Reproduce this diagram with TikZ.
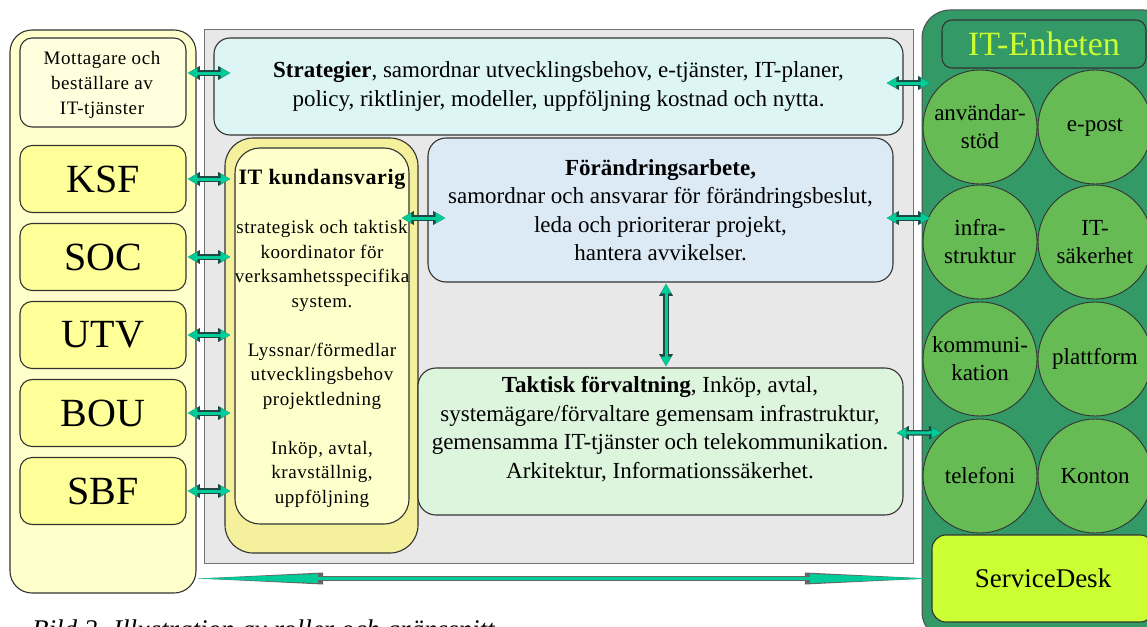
\documentclass[tikz,border=0pt]{standalone}
\usepackage{fontspec}
\setmainfont{Liberation Serif}
\newfontfamily\spacedfont[LetterSpace=3]{Liberation Serif}
\usetikzlibrary{arrows.meta,calc}

\definecolor{lyel}{HTML}{FFFFCC}
\definecolor{lyel2}{HTML}{FFFFDD}
\definecolor{myel}{HTML}{FFFF99}
\definecolor{ring}{HTML}{F4F09C}
\definecolor{panelgray}{HTML}{E8E8E8}
\definecolor{cyanbox}{HTML}{DDF5F5}
\definecolor{bluebox}{HTML}{DCEAF6}
\definecolor{greenbox}{HTML}{DDF5DD}
\definecolor{dgreen}{HTML}{339966}
\definecolor{cgreen}{HTML}{66BB55}
\definecolor{lime}{HTML}{CCFF33}
\definecolor{titlelime}{HTML}{CCFF33}
\definecolor{arrteal}{HTML}{00CC99}
\definecolor{arrdark}{HTML}{1E4A44}
\definecolor{edge}{HTML}{333333}

\begin{document}
\begin{tikzpicture}[x=1pt,y=-1pt,
  box/.style={draw=edge, line width=1.1pt, rounded corners=#1, inner sep=0pt},
  unitbox/.style={box=12pt, fill=myel, minimum width=166pt, minimum height=67pt,
    font=\fontsize{40}{44}\selectfont},
  maintext/.style={font=\fontsize{23}{28.5}\selectfont, align=center, inner sep=0pt},
  circ/.style={circle, draw=black!80, line width=0.9pt, fill=cgreen, minimum size=114pt,
    inner sep=0pt, align=center, font=\fontsize{23}{28}\selectfont},
  darr/.style={preaction={draw=arrdark, line width=5.5pt,
      {Triangle[length=12pt,width=14pt,line width=0pt]}-{Triangle[length=12pt,width=14pt,line width=0pt]}},
    draw=arrteal, line width=3pt, shorten >=1.3pt, shorten <=1.3pt,
    {Triangle[length=9.5pt,width=10.5pt,line width=0pt]}-{Triangle[length=9.5pt,width=10.5pt,line width=0pt]}},
  darrlong/.style={preaction={draw=black!60, line width=5pt,
      {Triangle[length=125pt,width=12pt,line width=0pt]}-{Triangle[length=125pt,width=12pt,line width=0pt]}},
    draw=arrteal, line width=2.8pt, shorten >=1.5pt, shorten <=1.5pt,
    {Triangle[length=120pt,width=9pt,line width=0pt]}-{Triangle[length=120pt,width=9pt,line width=0pt]}}
]
\useasboundingbox (0,0) rectangle (1147,626);
\clip (0,0) rectangle (1147,626);

% left column
\node[box=22pt, fill=lyel, minimum width=186pt, minimum height=563pt] (leftcol) at (103,311.5) {};
\node[box=12pt, fill=lyel2, minimum width=166pt, minimum height=89pt, align=center,
  font=\spacedfont\fontsize{19}{25}\selectfont] (mott) at (103,82.5) {};
\node[align=center, inner sep=0pt, font=\spacedfont\fontsize{19}{25}\selectfont] (motttext) at (102,85)
  {Mottagare och\\ beställare av\\ IT-tjänster};
\node[unitbox] (ksf) at (103,179) {KSF};
\node[unitbox] (soc) at (103,257) {SOC};
\node[unitbox] (utv) at (103,335) {UTV};
\node[unitbox] (bou) at (103,413) {BOU};
\node[unitbox] (sbf) at (103,491) {SBF};

% central panel
\node[draw=black!55, fill=panelgray, line width=1pt, minimum width=709pt, minimum height=533pt,
  inner sep=0pt] (panel) at (558.5,296.5) {};
\node[box=16pt, fill=cyanbox, minimum width=689pt, minimum height=97pt, maintext] (strat) at (558.5,86.5)
  {\textbf{Strategier}, samordnar utvecklingsbehov, e-tjänster, IT-planer,\\
   policy, riktlinjer, modeller, uppföljning kostnad och nytta.};
\node[box=28pt, fill=ring, minimum width=193pt, minimum height=415pt] (itkout) at (321.5,345.5) {};
\node[box=25pt, fill=lyel, minimum width=174pt, minimum height=376pt] (itkin) at (322,336) {};
\node[align=center, inner sep=0pt, font=\spacedfont\fontsize{19}{24.5}\selectfont] (itktext) at (322,338.5)
  {{\fontsize{22}{24.5}\selectfont\bfseries IT kundansvarig}\\[24.5pt]
   strategisk och taktisk\\ koordinator för\\ verksamhetsspecifika\\ system.\\[24.5pt]
   Lyssnar/förmedlar\\ utvecklingsbehov\\ projektledning\\[24.5pt]
   Inköp, avtal,\\ kravställnig,\\ uppföljning};
\node[box=18pt, fill=bluebox, minimum width=465pt, minimum height=144pt, maintext] (forand) at (660.5,210)
  {\textbf{Förändringsarbete,}\\ samordnar och ansvarar för förändringsbeslut,\\
   leda och prioriterar projekt,\\ hantera avvikelser.};
\node[box=18pt, fill=greenbox, minimum width=485pt, minimum height=147pt] (tak) at (660.5,441.5) {};
\node[maintext] (taktext) at (660,429)
  {\textbf{Taktisk förvaltning}, Inköp, avtal,\\ systemägare/förvaltare gemensam infrastruktur,\\
   gemensamma IT-tjänster och telekommunikation.\\ Arkitektur, Informationssäkerhet.};

% IT-Enheten
\node[draw=black!70, line width=1pt, fill=dgreen, rounded corners=28pt, minimum width=250pt,
  minimum height=630pt, inner sep=0pt] (itenh) at (1047,325) {};
\node[box=10pt, fill=dgreen, minimum width=204pt, minimum height=48pt, text=titlelime,
  font=\fontsize{34}{38}\selectfont] (title) at (1044,44) {IT-Enheten};
\node[circ] (anv) at (980,127) {användar-\\stöd};
\node[circ] (epost) at (1095,127) {e-post};
\node[circ] (infra) at (980,242) {infra-\\struktur};
\node[circ] (itsak) at (1095,242) {IT-\\säkerhet};
\node[circ] (komm) at (980,359) {kommuni-\\kation};
\node[circ] (platt) at (1095,359) {plattform};
\node[circ] (tel) at (980,476) {telefoni};
\node[circ] (konton) at (1095,476) {Konton};
\node[box=14pt, fill=lime, minimum width=222pt, minimum height=87pt,
  font=\fontsize{27}{30}\selectfont] (sd) at (1043,578.5) {ServiceDesk};

% connectors
\draw[darr] ($(mott.east)+(0,-9.5)$) -- ($(mott.east -| strat.west)+(18,-9.5)$);
\draw[darr] (ksf.east) -- ($(ksf.east -| itkin.west)+(-3,0)$);
\draw[darr] (soc.east) -- ($(soc.east -| itkin.west)+(-3,0)$);
\draw[darr] (utv.east) -- ($(utv.east -| itkin.west)+(-3,0)$);
\draw[darr] (bou.east) -- ($(bou.east -| itkin.west)+(-3,0)$);
\draw[darr] (sbf.east) -- ($(sbf.east -| itkin.west)+(-3,0)$);
\draw[darr] ($(itkin.east |- forand.west)+(-9,8)$) -- ($(forand.west)+(19,8)$);
\draw[darr] ($(strat.east)+(-18,-3.5)$) -- ($(strat.east -| itenh.west)+(10,-3.5)$);
\draw[darr] ($(forand.east)+(-8,8)$) -- ($(forand.east -| itenh.west)+(10,8)$);
\draw[darr] ($(tak.east)+(-8,-8.5)$) -- (tel.131);
\draw[darr] ($(forand.south)+(5.5,0)$) -- ($(tak.north)+(5.5,0)$);
\draw[darrlong] (leftcol.east |- sd.west) -- (sd.west);

% caption (cut off at the bottom edge, as in the reference)
\node[anchor=base west, inner sep=0pt, font=\fontsize{27}{30}\selectfont\itshape] (caption) at (32,638)
  {Bild 2. Illustration av roller och gränssnitt};
\end{tikzpicture}
\end{document}
